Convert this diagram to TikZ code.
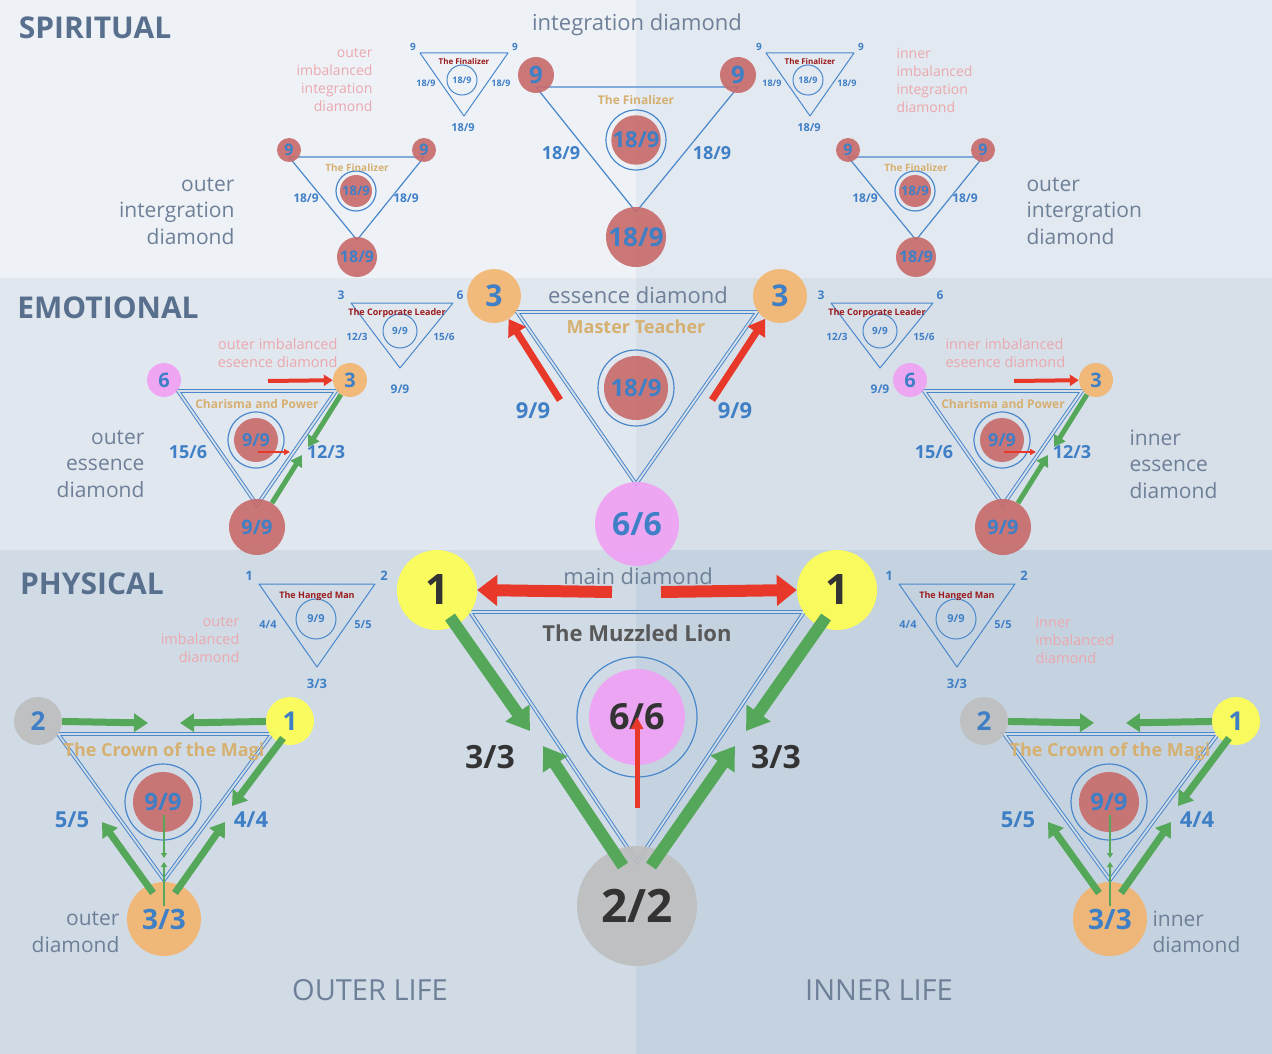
\documentclass[tikz,border=0pt]{standalone}
\usepackage{fontspec}
\setmainfont{Open Sans}
\usetikzlibrary{arrows.meta}
\definecolor{txtblue}{HTML}{3F7FC6}
\definecolor{lineblue}{HTML}{4A88CC}
\definecolor{redC}{HTML}{C86A6A}
\definecolor{orangeC}{HTML}{F3B56E}
\definecolor{pinkC}{HTML}{F0A0F4}
\definecolor{yellowC}{HTML}{FFFF50}
\definecolor{grayC}{HTML}{BEBEBE}
\definecolor{greenA}{HTML}{55A75A}
\definecolor{redA}{HTML}{E8382A}
\definecolor{tanT}{HTML}{D6B070}
\definecolor{darkredT}{HTML}{9B1B1B}
\definecolor{pinkT}{HTML}{EBA8AE}
\definecolor{captT}{HTML}{6E8098}
\definecolor{headT}{HTML}{58708E}
\definecolor{bgA}{HTML}{EEF2F7}
\definecolor{bgB}{HTML}{E3E9F0}
\definecolor{bgC}{HTML}{E1E7EE}
\definecolor{bgD}{HTML}{D7DFE8}
\definecolor{bgE}{HTML}{D0DBE6}
\definecolor{bgF}{HTML}{C5D3E0}
\tikzstyle{circ}=[circle, inner sep=0pt, text=txtblue, fill opacity=0.9, text opacity=1]
\tikzstyle{redv}=[circ, fill=redC]
\tikzstyle{orangev}=[circ, fill=orangeC]
\tikzstyle{pinkv}=[circ, fill=pinkC]
\tikzstyle{yellowv}=[circ, fill=yellowC]
\tikzstyle{grayv}=[circ, fill=grayC]
\tikzstyle{ring}=[circle, draw=lineblue, line width=1.2pt, inner sep=0pt]
\tikzstyle{edge}=[draw=lineblue, line width=1.2pt, line join=round]
\tikzstyle{dbl}=[draw=lineblue, line width=1pt, double=bgD, double distance=1.8pt]
\tikzset{
  fs/.style={font=\fontsize{#1}{#1}\selectfont},
  bf/.style={font=\bfseries\fontsize{#1}{#1}\selectfont},
  lbl/.style={text=txtblue, bf=#1},
  garrow/.style={draw=greenA, line width=#1},
  rarrow/.style={draw=redA, line width=#1},
}
\begin{document}
\begin{tikzpicture}[x=1pt, y=-1pt]
\useasboundingbox (0,0) rectangle (1272,1054);
	% panels
	\fill[bgA] (0,0) rectangle (636,278);
	\fill[bgB] (636,0) rectangle (1272,278);
	\fill[bgC] (0,278) rectangle (636,550);
	\fill[bgD] (636,278) rectangle (1272,550);
	\fill[bgE] (0,550) rectangle (636,1054);
	\fill[bgF] (636,550) rectangle (1272,1054);

	\node[text=headT, bf=30] (spi) at (95,28) {SPIRITUAL};
	\node[text=headT, bf=30] (emo) at (108,308) {EMOTIONAL};
	\node[text=headT, bf=30] (phy) at (92,584) {PHYSICAL};
	\node[text=captT, fs=29] (outl) at (370,990) {OUTER LIFE};
	\node[text=captT, fs=29] (innl) at (879,990) {INNER LIFE};

	%integration diamond
	\node[text=captT, fs=22] (intc) at (637,25) {integration diamond};
	\coordinate (i1) at (536,87);
	\coordinate (i2) at (738,87);
	\coordinate (i3) at (636,212);
	\draw[edge] (i1) -- (i2) -- (i3) -- cycle;
	\node[redv, minimum size=36, bf=24] (i1c) at (536,75) {9};
	\node[redv, minimum size=36, bf=24] (i2c) at (738,75) {9};
	\node[redv, minimum size=60, bf=26] (i3c) at (636,237) {18/9};
	\node[ring, minimum size=60] (ir) at (636,140) {};
	\node[redv, minimum size=48, bf=22] (ic) at (636,140) {18/9};
	\node[text=tanT, bf=12] (ifin) at (636,100) {The Finalizer};
	\node[lbl=18] (il) at (561,153) {18/9};
	\node[lbl=18] (ir2) at (712,153) {18/9};

	%small finalizers
	\foreach \s/\dx in {l/0,r/346}{
	\begin{scope}[xshift=\dx]
		\coordinate (f1\s) at (420,53);
		\coordinate (f2\s) at (508,53);
		\coordinate (f3\s) at (464,116);
		\draw[edge, line width=1pt] (f1\s) -- (f2\s) -- (f3\s) -- cycle;
		\node[ring, line width=1pt, minimum size=30, lbl=9] (fr\s) at (462,80) {18/9};
		\node[text=darkredT, bf=8] (ft\s) at (464,62) {The Finalizer};
		\node[lbl=10] at (413,47) {9};
		\node[lbl=10] at (515,47) {9};
		\node[lbl=9] at (426,83) {18/9};
		\node[lbl=9] at (501,83) {18/9};
		\node[lbl=11] at (463,128) {18/9};
	\end{scope}}
	\node[text=pinkT, align=right, anchor=east, font=\fontsize{14}{18}\selectfont] (oiid) at (376,80) {outer\\imbalanced\\integration\\diamond};
	\node[text=pinkT, align=left, anchor=west, font=\fontsize{14}{18}\selectfont] (iiid) at (893,80) {inner\\imbalanced\\integration\\diamond};

	%medium finalizers
	\foreach \s/\dx in {l/0,r/559}{
	\begin{scope}[xshift=\dx]
		\coordinate (m1\s) at (289,157);
		\coordinate (m2\s) at (424,157);
		\coordinate (m3\s) at (357,240);
		\draw[edge] (m1\s) -- (m2\s) -- (m3\s) -- cycle;
		\node[redv, minimum size=24, bf=16] (m1c\s) at (289,150) {9};
		\node[redv, minimum size=24, bf=16] (m2c\s) at (424,150) {9};
		\node[redv, minimum size=40, bf=16] (m3c\s) at (357,257) {18/9};
		\node[ring, minimum size=40] (mr\s) at (356,191) {};
		\node[redv, minimum size=32, bf=13] (mc\s) at (356,191) {18/9};
		\node[text=tanT, bf=10] (mt\s) at (357,168) {The Finalizer};
		\node[lbl=12] at (306,198) {18/9};
		\node[lbl=12] at (406,198) {18/9};
	\end{scope}}
	\node[text=captT, align=right, anchor=east, font=\fontsize{21}{26.5}\selectfont] (oid) at (238,211) {outer\\intergration\\diamond};
	\node[text=captT, align=left, anchor=west, font=\fontsize{21}{26.5}\selectfont] (oid2) at (1023,211) {outer\\intergration\\diamond};

	%essence diamond
	\node[text=captT, fs=22] (essc) at (638,295) {essence diamond};
	\coordinate (e1) at (517,312);
	\coordinate (e2) at (757,312);
	\coordinate (e3) at (636,484);
	\draw[dbl] (e1) -- (e2) -- (e3) -- cycle;
	\node[orangev, minimum size=54, bf=30] (e1c) at (494,296) {3};
	\node[orangev, minimum size=54, bf=30] (e2c) at (780,296) {3};
	\node[pinkv, minimum size=84, bf=32] (e3c) at (637,524) {6/6};
	\node[ring, minimum size=76] (er) at (636,388) {};
	\node[redv, minimum size=64, bf=24] (ec) at (636,388) {18/9};
	\node[text=tanT, bf=18] (emt) at (636,327) {Master Teacher};
	\node[lbl=22] (el) at (533,411) {9/9};
	\node[lbl=22] (err) at (735,411) {9/9};
	\coordinate (ea1) at (560,400);
	\coordinate (ea2) at (712,400);
	\draw[rarrow=7, -{Triangle[length=16pt,width=20pt]}] (ea1) -- (e1c);
	\draw[rarrow=7, -{Triangle[length=16pt,width=20pt]}] (ea2) -- (e2c);

	%corporate leaders
	\foreach \s/\dx in {l/0,r/480}{
	\begin{scope}[xshift=\dx]
		\coordinate (c1\s) at (351,303);
		\coordinate (c2\s) at (453,303);
		\coordinate (c3\s) at (400,368);
		\draw[edge, line width=1pt] (c1\s) -- (c2\s) -- (c3\s) -- cycle;
		\node[ring, line width=1pt, minimum size=34, lbl=10] (cr\s) at (400,331) {9/9};
		\node[text=darkredT, bf=9] (ct\s) at (397,313) {The Corporate Leader};
		\node[lbl=12] at (341,295) {3};
		\node[lbl=12] at (460,295) {6};
		\node[lbl=10] at (357,337) {12/3};
		\node[lbl=10] at (444,337) {15/6};
		\node[lbl=12] at (400,389) {9/9};
	\end{scope}}
	\node[text=pinkT, align=right, anchor=east, font=\fontsize{14.5}{18}\selectfont] (oied) at (341,353) {outer imbalanced\\eseence diamond};
	\node[text=pinkT, align=left, anchor=west, font=\fontsize{14.5}{18}\selectfont] (iied) at (942,353) {inner imbalanced\\eseence diamond};

	%charisma and power
	\foreach \s/\dx in {l/0,r/746}{
	\begin{scope}[xshift=\dx]
		\coordinate (p1\s) at (178,391);
		\coordinate (p2\s) at (336,391);
		\coordinate (p3\s) at (257,505);
		\draw[dbl] (p1\s) -- (p2\s) -- (p3\s) -- cycle;
		\node[pinkv, minimum size=34, bf=20] (p1c\s) at (164,380) {6};
		\node[orangev, minimum size=34, bf=20] (p2c\s) at (350,380) {3};
		\node[redv, minimum size=56, bf=20] (p3c\s) at (257,527) {9/9};
		\node[ring, minimum size=56] (pr\s) at (256,440) {};
		\node[redv, minimum size=44, bf=18] (pc\s) at (256,440) {9/9};
		\node[text=tanT, bf=12] (pt\s) at (257,404) {Charisma and Power};
		\node[lbl=18] at (188,452) {15/6};
		\node[lbl=18] at (326,452) {12/3};
		\coordinate (pa1\s) at (268,381);
		\coordinate (pa2\s) at (258,452);
		\coordinate (pa3\s) at (290,452);
		\coordinate (pa4\s) at (308,447);
		\coordinate (pa5\s) at (302,455);
		\draw[rarrow=4, -{Triangle[length=9pt,width=11pt]}] (pa1\s) -- (p2c\s);
		\draw[rarrow=2, -{Triangle[length=6pt,width=6pt]}] (pa2\s) -- (pa3\s);
		\draw[garrow=5, -{Triangle[length=11pt,width=13pt]}] (p2c\s) -- (pa4\s);
		\draw[garrow=5, -{Triangle[length=11pt,width=13pt]}] (p3c\s) -- (pa5\s);
	\end{scope}}
	\node[text=captT, align=right, anchor=east, font=\fontsize{21}{26.5}\selectfont] (oed) at (148,464) {outer\\essence\\diamond};
	\node[text=captT, align=left, anchor=west, font=\fontsize{21}{26.5}\selectfont] (ied) at (1126,464) {inner\\essence\\diamond};

	%main diamond
	\node[text=captT, fs=22] (mainc) at (638,576) {main diamond};
	\coordinate (d1) at (470,612);
	\coordinate (d2) at (804,612);
	\coordinate (d3) at (637,862);
	\draw[dbl, double=bgE] (d1) -- (d2) -- (d3) -- cycle;
	\node[yellowv, minimum size=80, bf=42, text=black!80] (d1c) at (437,590) {1};
	\node[yellowv, minimum size=80, bf=42, text=black!80] (d2c) at (837,590) {1};
	\node[grayv, minimum size=120, bf=46, text=black!80] (d3c) at (637,906) {2/2};
	\node[ring, minimum size=120] (dr) at (637,717) {};
	\node[pinkv, minimum size=96, bf=36, text=black!80] (dc) at (637,717) {6/6};
	\node[text=black!65, bf=22] (dml) at (637,633) {The Muzzled Lion};
	\node[text=black!80, bf=32] (dl) at (490,757) {3/3};
	\node[text=black!80, bf=32] (drr) at (776,757) {3/3};
	\coordinate (da1) at (612,592);
	\coordinate (da2) at (661,592);
	\coordinate (da3) at (637,808);
	\coordinate (da4) at (530,731);
	\coordinate (da5) at (543,746);
	\coordinate (da6) at (735,746);
	\coordinate (da7) at (746,731);
	\coordinate (ds1) at (450,617);
	\coordinate (ds2) at (623,866);
	\coordinate (ds3) at (651,866);
	\coordinate (ds4) at (826,617);
	\draw[rarrow=12, -{Triangle[length=20pt,width=30pt]}] (da1) -- (d1c.east);
	\draw[rarrow=12, -{Triangle[length=20pt,width=30pt]}] (da2) -- (d2c.west);
	\draw[rarrow=5, -{Triangle[length=12pt,width=12pt]}] (da3) -- (dc.center);
	\draw[garrow=12, -{Triangle[length=22pt,width=28pt]}] (ds1) -- (da4);
	\draw[garrow=12, -{Triangle[length=22pt,width=28pt]}] (ds2) -- (da5);
	\draw[garrow=12, -{Triangle[length=22pt,width=28pt]}] (ds3) -- (da6);
	\draw[garrow=12, -{Triangle[length=22pt,width=28pt]}] (ds4) -- (da7);

	%hanged man
	\foreach \s/\dx in {l/0,r/640}{
	\begin{scope}[xshift=\dx]
		\coordinate (h1\s) at (259,584);
		\coordinate (h2\s) at (375,584);
		\coordinate (h3\s) at (317,667);
		\draw[edge, line width=1pt] (h1\s) -- (h2\s) -- (h3\s) -- cycle;
		\node[ring, line width=1pt, minimum size=40, lbl=11] (hr\s) at (316,619) {9/9};
		\node[text=darkredT, bf=9] (ht\s) at (317,596) {The Hanged Man};
		\node[lbl=13] at (249,576) {1};
		\node[lbl=13] at (384,576) {2};
		\node[lbl=11] at (268,625) {4/4};
		\node[lbl=11] at (363,625) {5/5};
		\node[lbl=13] at (317,684) {3/3};
	\end{scope}}
	\node[text=pinkT, align=right, anchor=east, font=\fontsize{14.5}{18}\selectfont] (oimd) at (243,640) {outer\\imbalanced\\diamond};
	\node[text=pinkT, align=left, anchor=west, font=\fontsize{14.5}{18}\selectfont] (iimd) at (1032,640) {inner\\imbalanced\\diamond};

	%crown of the magi
	\foreach \s/\dx in {l/0,r/946}{
	\begin{scope}[xshift=\dx]
		\coordinate (k1\s) at (58,734);
		\coordinate (k2\s) at (272,734);
		\coordinate (k3\s) at (164,880);
		\draw[dbl, double=bgE] (k1\s) -- (k2\s) -- (k3\s) -- cycle;
		\node[grayv, minimum size=48, bf=26] (k1c\s) at (38,721) {2};
		\node[yellowv, minimum size=48, bf=26] (k2c\s) at (290,721) {1};
		\node[orangev, minimum size=74, bf=28] (k3c\s) at (164,919) {3/3};
		\node[ring, minimum size=76] (kr\s) at (163,802) {};
		\node[redv, minimum size=60, bf=24] (kc\s) at (163,802) {9/9};
		\node[text=tanT, bf=18] (kt\s) at (164,752) {The Crown of the Magi};
		\node[lbl=22] at (72,820) {5/5};
		\node[lbl=22] at (251,820) {4/4};
		\coordinate (ka1\s) at (148,723);
		\coordinate (ka2\s) at (180,723);
		\coordinate (ka3\s) at (232,806);
		\coordinate (ka4\s) at (102,822);
		\coordinate (ka5\s) at (225,822);
		\coordinate (ka6\s) at (164,858);
		\coordinate (ka7\s) at (164,862);
		\coordinate (kb1\s) at (283,738);
		\coordinate (kb2\s) at (153,893);
		\coordinate (kb3\s) at (175,893);
		\coordinate (kb4\s) at (164,815);
		\coordinate (kb5\s) at (164,906);
		\draw[garrow=7, -{Triangle[length=14pt,width=18pt]}] (k1c\s) -- (ka1\s);
		\draw[garrow=7, -{Triangle[length=14pt,width=18pt]}] (k2c\s) -- (ka2\s);
		\draw[garrow=7, -{Triangle[length=14pt,width=18pt]}] (kb1\s) -- (ka3\s);
		\draw[garrow=7, -{Triangle[length=14pt,width=18pt]}] (kb2\s) -- (ka4\s);
		\draw[garrow=7, -{Triangle[length=14pt,width=18pt]}] (kb3\s) -- (ka5\s);
		\draw[garrow=2.5, -{Triangle[length=5pt,width=6pt]}] (kb4\s) -- (ka6\s);
		\draw[garrow=2.5, -{Triangle[length=5pt,width=6pt]}] (kb5\s) -- (ka7\s);
	\end{scope}}
	\node[text=captT, align=right, anchor=east, font=\fontsize{21}{26.5}\selectfont] (odm) at (123,932) {outer\\diamond};
	\node[text=captT, align=left, anchor=west, font=\fontsize{21}{26.5}\selectfont] (idm) at (1149,932) {inner\\diamond};
\end{tikzpicture}
\end{document}
